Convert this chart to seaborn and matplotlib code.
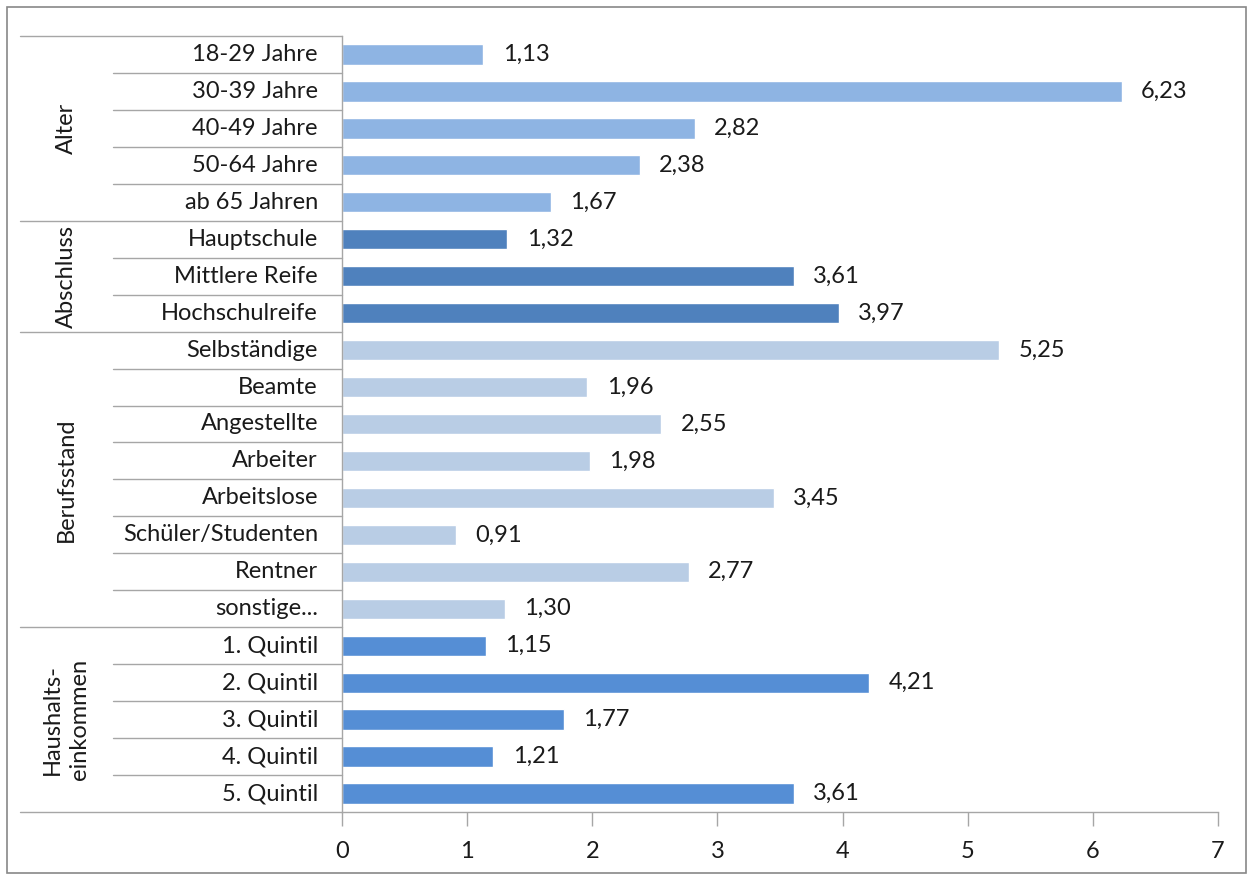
import matplotlib
matplotlib.use("Agg")
import matplotlib.pyplot as plt
import matplotlib.transforms as mtransforms
from matplotlib.patches import Rectangle
import seaborn as sns
import pandas as pd

# --- Daten ---
gruppen = ["Alter", "Abschluss", "Berufsstand", "Haushalts-\neinkommen"]
kategorien = [
    ["18-29 Jahre", "30-39 Jahre", "40-49 Jahre", "50-64 Jahre", "ab 65 Jahren"],
    ["Hauptschule", "Mittlere Reife", "Hochschulreife"],
    ["Selbständige", "Beamte", "Angestellte", "Arbeiter", "Arbeitslose",
     "Schüler/Studenten", "Rentner", "sonstige..."],
    ["1. Quintil", "2. Quintil", "3. Quintil", "4. Quintil", "5. Quintil"],
]
werte = [
    [1.13, 6.23, 2.82, 2.38, 1.67],
    [1.32, 3.61, 3.97],
    [5.25, 1.96, 2.55, 1.98, 3.45, 0.91, 2.77, 1.30],
    [1.15, 4.21, 1.77, 1.21, 3.61],
]
farben = ["#8EB4E3", "#4F81BD", "#B9CDE5", "#558ED5"]

rows = []
for g, cats, vals in zip(gruppen, kategorien, werte):
    for c, v in zip(cats, vals):
        rows.append({"gruppe": g, "kategorie": c, "wert": v})
df = pd.DataFrame(rows)

sns.set_style("white")
plt.rcParams["font.family"] = ["Lato", "DejaVu Sans"]
FS = 17
TXT = "#1A1A1A"
LINE = "#A6A6A6"

fig = plt.figure(figsize=(12.5, 8.75), dpi=100)
ax = fig.add_axes([342 / 1250, 1 - 812 / 875, 876 / 1250, 776 / 875])

sns.barplot(data=df, x="wert", y="kategorie", hue="gruppe", order=df["kategorie"],
            palette=farben, dodge=False, orient="h", width=0.55, legend=False,
            saturation=1, ax=ax)

# Werte mit Dezimalkomma
for cont in ax.containers:
    ax.bar_label(cont, labels=[f"{b.get_width():.2f}".replace(".", ",") for b in cont],
                 padding=14, fontsize=FS, color=TXT)

ax.set_xlim(0, 7)
ax.set_ylim(len(df) - 0.5, -0.5)
ax.set_xticks(range(8))
ax.set_xlabel("")
ax.set_ylabel("")
ax.set_yticks([])
ax.tick_params(axis="x", direction="out", length=10, width=1, color=LINE,
               labelsize=FS, labelcolor=TXT, pad=11, bottom=True)
for s in ["top", "right"]:
    ax.spines[s].set_visible(False)
for s in ["left", "bottom"]:
    ax.spines[s].set_color(LINE)
    ax.spines[s].set_linewidth(1)

# --- mehrstufige Kategorienachse ---
trans = mtransforms.blended_transform_factory(ax.transAxes, ax.transData)
x_aussen = (20 - 342) / 876
x_innen = (113 - 342) / 876
x_text = (318 - 342) / 876
x_gruppe = (66 - 342) / 876

start = 0
for g, cats in zip(gruppen, kategorien):
    ax.plot([x_aussen, 0], [start - 0.5, start - 0.5], color=LINE, lw=1,
            transform=trans, clip_on=False)
    for i, c in enumerate(cats):
        p = start + i
        ax.text(x_text, p, c, ha="right", va="center", fontsize=FS,
                color=TXT, transform=trans)
        if i > 0:
            ax.plot([x_innen, 0], [p - 0.5, p - 0.5], color=LINE, lw=1,
                    transform=trans, clip_on=False)
    mitte = start + (len(cats) - 1) / 2
    ax.text(x_gruppe, mitte, g, ha="center", va="center", rotation=90,
            fontsize=FS, color=TXT, transform=trans, linespacing=1.4)
    start += len(cats)
ax.plot([x_aussen, 0], [start - 0.5, start - 0.5], color=LINE, lw=1,
        transform=trans, clip_on=False)

# Rahmen
fig.patches.append(Rectangle((7 / 1250, 0.002), 1239 / 1250, 1 - 7 / 875 - 0.002,
                             transform=fig.transFigure, fill=False,
                             edgecolor="#888888", lw=1.2))

fig.savefig("out.png", dpi=100)
